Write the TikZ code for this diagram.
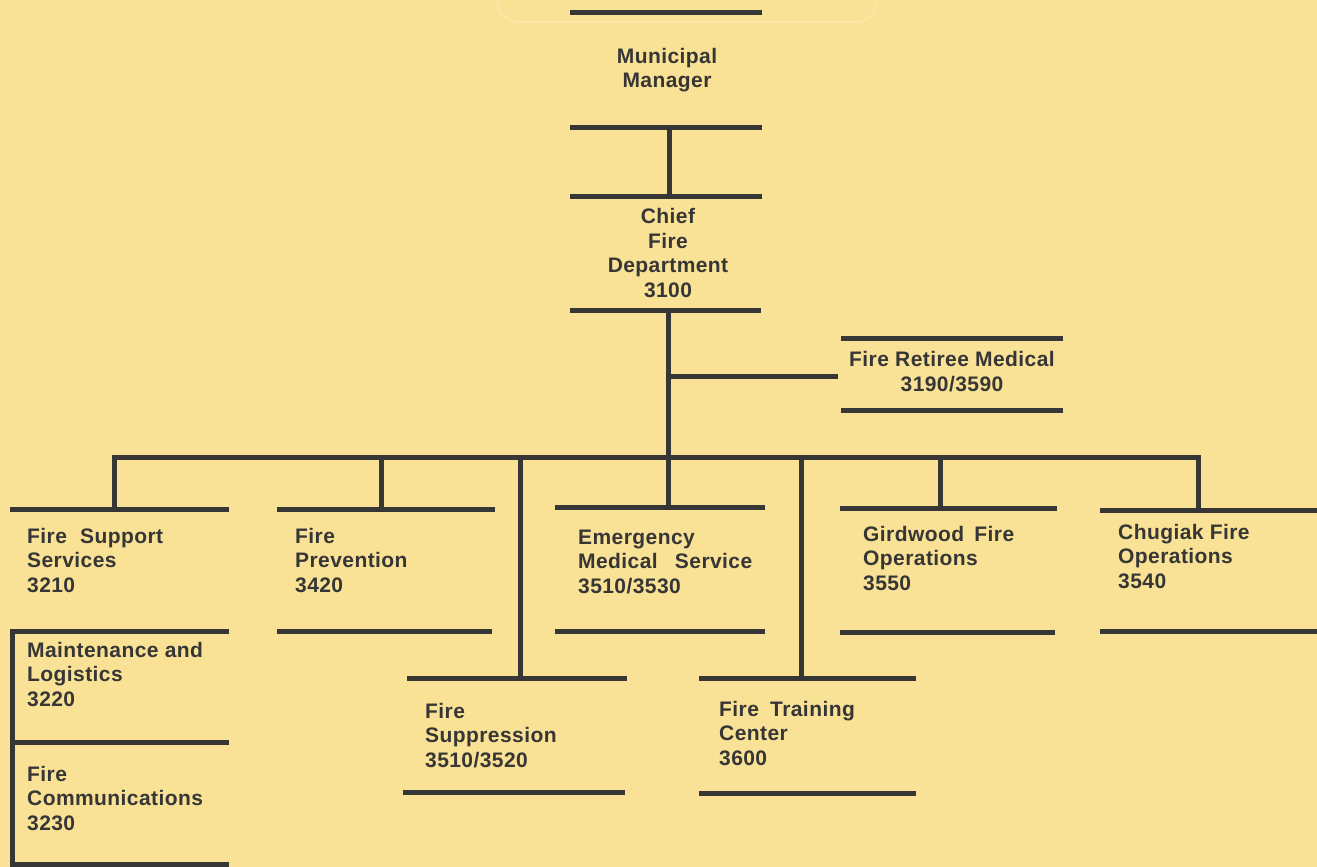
\documentclass[tikz,border=0pt]{standalone}
\usepackage{fontspec}
\setmainfont{Liberation Sans}[LetterSpace=2]
\definecolor{bg}{HTML}{F9E195}
\definecolor{ink}{HTML}{363636}
\newcommand{\wsp}[1]{\hspace*{#1pt}}
\begin{document}
\begin{tikzpicture}[x=1pt,y=-1pt,
  bar/.style={line width=5pt, draw=ink},
  link/.style={line width=5pt, draw=ink},
  lbl/.style={font=\bfseries\fontsize{21}{24.5}\selectfont, text=ink, align=left, inner sep=0pt, anchor=base west},
  clbl/.style={font=\bfseries\fontsize{21}{24.5}\selectfont, text=ink, align=center, inner sep=0pt, anchor=base}]
\useasboundingbox (0,0) rectangle (1317,867);
\fill[bg] (0,0) rectangle (1317,867);
\draw[bg!82!white, line width=2pt, rounded corners=22pt] (497,-30) rectangle (877,22);
% top (cut off) unit
\draw[bar] (570,13) -- (762,13);
% Municipal Manager (anchor = baseline of last line)
\node[clbl] (mm) at (667,88) {Municipal\\Manager};
\draw[bar] (570,127) -- (762,127);
\coordinate (mm-bot) at (669,127);
% Chief Fire Department
\coordinate (cf-top) at (669,196);
\draw[bar] (570,196) -- (762,196);
\node[clbl] (cf) at (668,297) {Chief\\Fire\\Department\\3100};
\draw[bar] (570,310) -- (761,310);
\coordinate (cf-bot) at (668,310);
\draw[link] (mm-bot) -- (cf-top);
% Fire Retiree Medical
\draw[bar] (841,338) -- (1063,338);
\node[clbl] (frm) at (952,391) {Fire Retiree Medical\\3190/3590};
\draw[bar] (841,410) -- (1063,410);
\coordinate (frm-in) at (838,376);
\draw[link] (cf-bot |- frm-in) -- (frm-in);
% bus
\coordinate (bus) at (668,457);
% Fire Support Services
\coordinate (fss-top) at (114,509);
\draw[bar] (10,509) -- (229,509);
\node[lbl] (fss) at (27,592) {Fire \wsp{7}Support\\Services\\3210};
% Maintenance and Logistics / Fire Communications
\draw[bar] (10,631) -- (229,631);
\node[lbl] (mnt) at (27,706) {Maintenance and\\Logistics\\3220};
\draw[bar] (10,742) -- (229,742);
\node[lbl] (com) at (27,830) {Fire\\Communications\\3230};
\draw[bar] (10,864) -- (229,864);
\coordinate (sub-top) at (12.5,631);
\coordinate (sub-bot) at (12.5,864);
\draw[link] ([yshift=-2.5pt]sub-top) -- ([yshift=2.5pt]sub-bot);
% Fire Prevention
\coordinate (fp-top) at (381,509);
\draw[bar] (277,509) -- (495,509);
\node[lbl] (fp) at (295,592) {Fire\\Prevention\\3420};
\draw[bar] (277,631) -- (492,631);
% Fire Suppression
\coordinate (fs-top) at (520,678);
\draw[bar] (407,678) -- (627,678);
\node[lbl] (fs) at (425,767) {Fire\\Suppression\\3510/3520};
\draw[bar] (403,792) -- (625,792);
% Emergency Medical Service
\coordinate (ems-top) at (668,507);
\draw[bar] (555,507) -- (765,507);
\node[lbl] (ems) at (578,593) {Emergency\\Medical \wsp{11}Service\\3510/3530};
\draw[bar] (555,631) -- (765,631);
% Fire Training Center
\coordinate (ftc-top) at (801,678);
\draw[bar] (699,678) -- (916,678);
\node[lbl] (ftc) at (719,765) {Fire \wsp{5}Training\\Center\\3600};
\draw[bar] (699,793) -- (916,793);
% Girdwood Fire Operations
\coordinate (gfo-top) at (940,508);
\draw[bar] (840,508) -- (1057,508);
\node[lbl] (gfo) at (863,590) {Girdwood \wsp{4}Fire\\Operations\\3550};
\draw[bar] (840,632) -- (1055,632);
% Chugiak Fire Operations
\coordinate (cho-top) at (1198,510);
\draw[bar] (1100,510) -- (1317,510);
\node[lbl] (cho) at (1118,588) {Chugiak Fire\\Operations\\3540};
\draw[bar] (1100,631) -- (1317,631);
% connectors
\draw[link] (cf-bot) -- (ems-top);
\draw[link] ([xshift=-2.5pt]fss-top |- bus) -- ([xshift=2.5pt]cho-top |- bus);
\foreach \u in {fss,fp,fs,ftc,gfo,cho}
  \draw[link] ([yshift=-2.5pt]\u-top |- bus) -- (\u-top);
\end{tikzpicture}
\end{document}
